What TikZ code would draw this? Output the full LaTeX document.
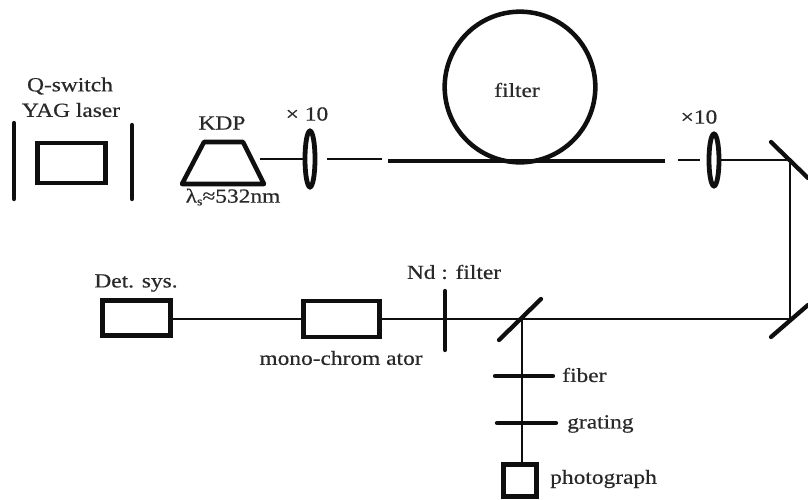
\documentclass[tikz,border=0pt]{standalone}
\usepackage{fontspec}
\setmainfont{Liberation Serif}
\newfontfamily\labf[FakeStretch=1.17,FakeBold=0.5]{Liberation Serif}
\usetikzlibrary{shapes.geometric}
\definecolor{ink}{gray}{0.06}
\definecolor{softink}{gray}{0.16}
\tikzset{
  x=0.75pt,y=-0.75pt,
  box/.style={draw=ink,line width=3.6pt,fill=white,inner sep=0pt,minimum width=#1},
  box/.default=50pt,
  lens/.style={draw=ink,line width=3.6pt,ellipse,fill=white,inner sep=0pt,minimum width=7.5pt,minimum height=42pt},
  beam/.style={draw=ink,line width=1.7pt},
  bar/.style={draw=ink,line width=3.2pt,line cap=round},
  fibre/.style={draw=ink,line width=3.2pt},
  lab/.style={text=softink,inner sep=0pt,font=\fontsize{15pt}{17pt}\labf}
}
\begin{document}
\begin{tikzpicture}
\useasboundingbox (0,0) rectangle (808,500);
% named optical elements
\node[box=51pt,minimum height=30pt] (laser) at (71.5,163) {};
\node[box=51pt,minimum height=26pt] (det) at (136.5,318) {};
\node[box=57pt,minimum height=27pt] (mono) at (341.5,319) {};
\node[box=25pt,minimum height=24pt] (photo) at (520,480.5) {};
\node[lens] (lensA) at (310,159) {};
\node[lens,minimum height=39pt] (lensB) at (714,160) {};
\coordinate (kdpOut) at (260,159);
\coordinate (lensAout) at (327,159);
\coordinate (lensAend) at (382,159);
\coordinate (fibL) at (388,161);
\coordinate (fibR) at (665,161);
\coordinate (dashL) at (678,160);
\coordinate (dashR) at (700,160);
\coordinate (m1) at (790,160);
\coordinate (m2) at (790,319);
\coordinate (bs) at (522,319);
\coordinate (nd) at (445,319);
\coordinate (fb) at (522,376);
\coordinate (gr) at (522,423);
\coordinate (phin) at (522,464);
% loop filter
\node[draw=ink,line width=3.4pt,circle,minimum size=113pt,inner sep=0pt] (filterloop) at (520,87) {};
% cavity mirrors
\draw[bar] (14,123) -- (14,199);
\draw[bar] (132,125) -- (132,199);
% KDP
\draw[draw=ink,line width=3.4pt,line join=round] (182,184) -- (204,142) -- (243,142) -- (264,184) -- cycle;
% beams
\draw[beam] (kdpOut) -- (lensA.west);
\draw[beam] (lensAout) -- (lensAend);
\draw[fibre] (fibL) -- (fibR);
\draw[beam] (dashL) -- (dashR);
\draw[beam] (lensB.east) -- (m1);
\draw[beam] (m1) -- (m2);
\draw[beam] (m2) -- (bs);
\draw[beam] (bs) -- (nd);
\draw[beam] (nd) -- (mono.east);
\draw[beam] (mono.west) -- (det.east |- mono.west);
\draw[beam,line width=2.1pt] (bs) -- (fb) -- (gr) -- (phin);
% mirrors and plates
\draw[bar] (771,142) -- (808,178);
\draw[bar] (771,337) -- (808,305);
\draw[bar] (499,340) -- (541,299);
\draw[bar] (445,291) -- (445,350);
\draw[bar] (495,376) -- (553,376);
\draw[bar] (497,423) -- (556,423);
% labels
\node[lab] (t1) at (70,86) {Q-switch};
\node[lab] (t2) at (71,110) {YAG laser};
\node[lab] (t3) at (222,123) {KDP};
\node[lab] (t4) at (233,197) {λ\raisebox{-2pt}{\fontsize{9pt}{9pt}\labf s}≈532nm};
\node[lab] (t5) at (307,114) {× 10};
\node[lab] (t6) at (517,90) {filter};
\node[lab] (t7) at (699,117) {×10};
\node[lab] (t8) at (136,283) {Det. sys.};
\node[lab] (t9) at (341,358) {mono-chrom ator};
\node[lab] (t10) at (454,272) {Nd : filter};
\node[lab,anchor=west] (t11) at (562,375) {fiber};
\node[lab,anchor=west] (t12) at (567,424) {grating};
\node[lab,anchor=west] (t13) at (550,479) {photograph};
\end{tikzpicture}
\end{document}
